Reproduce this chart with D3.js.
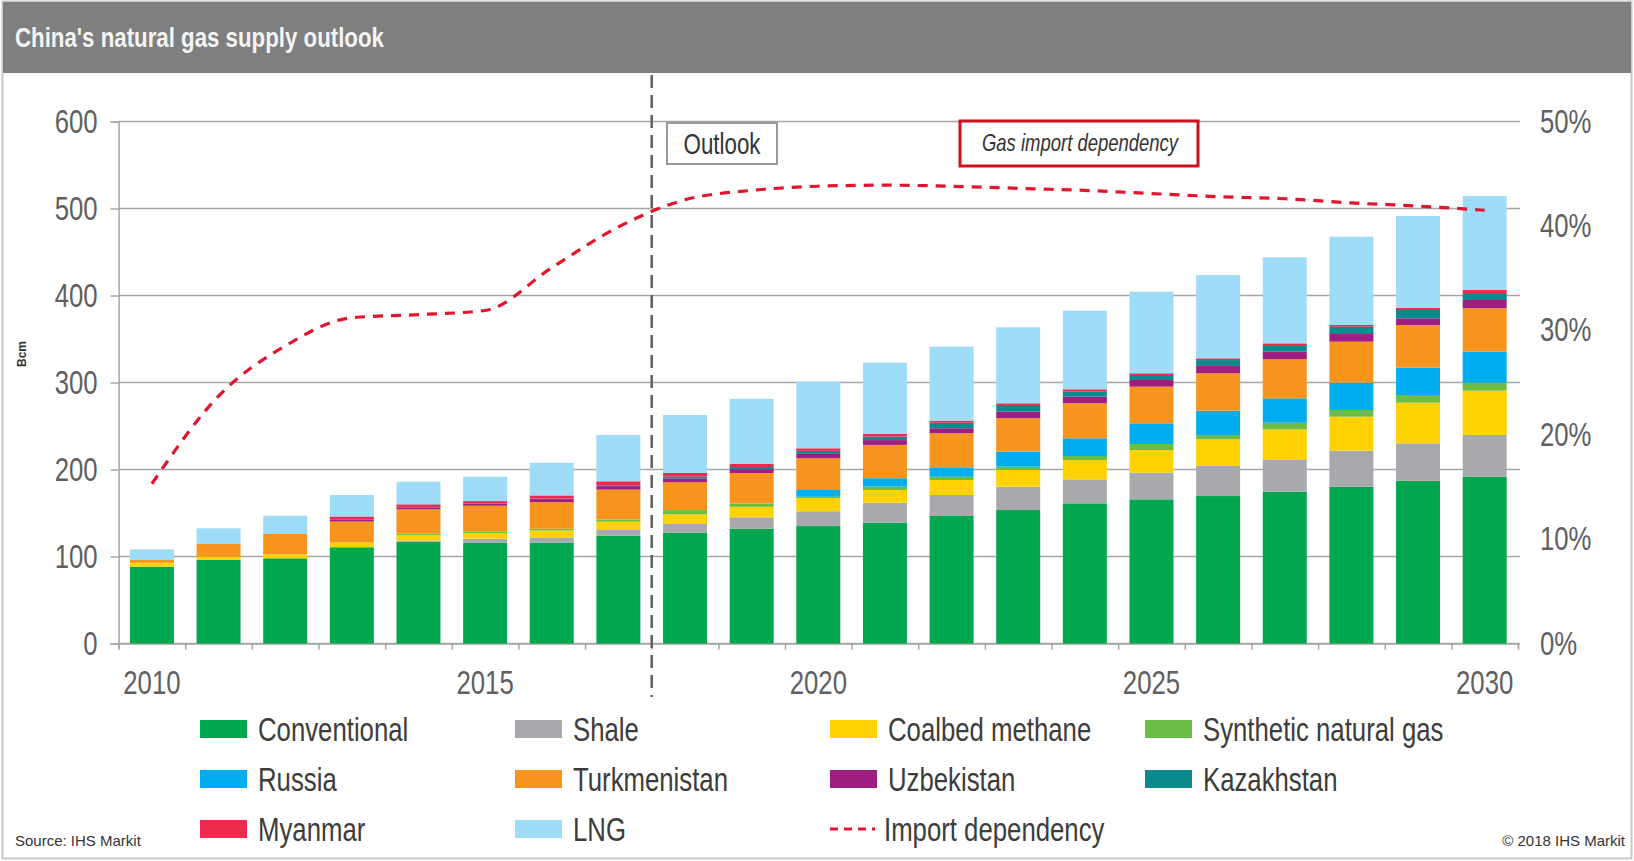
<!DOCTYPE html>
<html><head><meta charset="utf-8">
<script src="https://cdn.jsdelivr.net/npm/d3@7/dist/d3.min.js"></script>
<style>
html,body{margin:0;padding:0;background:#fff;}
svg{display:block;}
</style></head><body>
<svg id="chart" width="1634" height="861"></svg>
<script>
// ---------- DATA ----------
const years = [2010,2011,2012,2013,2014,2015,2016,2017,2018,2019,2020,2021,2022,2023,2024,2025,2026,2027,2028,2029,2030];
const conventional = [88.3,96,97.9,110.6,117,115.9,115.9,124,127.4,132,135,139,146.6,153.4,161.1,165.7,169.5,174.5,180.2,187.1,191.7];
const shale        = [0,0,0,0.2,1.3,4.5,6,6.5,10,13,17,22.9,24.1,26.8,27.6,30.7,34.5,36.4,41.4,43,48];
const coalbed      = [4.6,3.8,4.6,5.3,6.5,6.5,8,9.5,11,12.1,15.2,14.6,17.2,19.2,22.2,26,30.7,35.3,39.1,46.7,50.9];
const synthetic    = [0,0,0,0,1.5,1.5,2,2.5,5,3.8,1.5,3.8,3.8,3.8,4.6,6.9,5,7.6,7.7,8.8,9.2];
const russia       = [0,0,0,0,0,0,0,0,0,0,7.7,9.7,10.8,17.3,20.4,23.8,27.9,28,31.4,31.4,35.6];
const turkmenistan = [3.1,14.6,23.4,24.1,28,29.9,30.6,34.4,31.9,35,36.5,38.3,39.1,38.4,40.2,42.1,43,44.9,47.1,49.1,49.9];
const uzbekistan   = [0,0,0,2.5,2.2,2,3.5,4,4.5,4.5,5,5.5,5.8,7.6,7.6,7.7,8.4,8.7,8.8,7.7,9.5];
const kazakhstan   = [0,0,0,0.3,0.5,0.4,0.5,1,2,2.5,3.5,4,6.4,6.5,5.7,5.7,6.8,6.6,8.4,9.5,6.9];
const myanmar      = [0,0,0,3,3,3,3.7,4.5,4.3,3.7,3,3.1,2.3,3.1,2.8,2,2,3,2,2.7,4.6];
const lng          = [12.3,18,21,24.7,26,28,37.6,53.3,66.5,74.6,76.6,81.9,85,87.3,90.3,93.8,95.8,98.9,101.5,105.4,108.1];
const importDependency = [15.3,23.7,28.5,31.2,31.5,31.9,36,39.9,42.5,43.4,43.8,43.9,43.8,43.6,43.4,43.1,42.8,42.6,42.2,41.9,41.5];

const seriesNames  = ["Conventional","Shale","Coalbed methane","Synthetic natural gas","Russia","Turkmenistan","Uzbekistan","Kazakhstan","Myanmar","LNG"];
const seriesColors = ["#00a74f","#a7a9ac","#ffd200","#6abd45","#00aeef","#f7941d","#9e1f7f","#0a8a8c","#ee2a4e","#9fdcf7"];
const seriesData   = [conventional,shale,coalbed,synthetic,russia,turkmenistan,uzbekistan,kazakhstan,myanmar,lng];

const leftTicks  = [0,100,200,300,400,500,600];
const rightTicks = [0,10,20,30,40,50];
const xLabelYears = [2010,2015,2020,2025,2030];
const titleText = "China's natural gas supply outlook";
const lineName = "Import dependency";

// ---------- LAYOUT ----------
const FONT = "'Liberation Sans Narrow','Arial Narrow','Liberation Sans',Arial,sans-serif";
const svg = d3.select("#chart");
const W = 1634, H = 861;
const L = 118.6, R = 1518, T = 121.5, B = 643.5;

// emulate a condensed face: squeeze glyphs horizontally, keep height
function condense(sel, f){
  sel.each(function(){
    const w = this.getComputedTextLength();
    d3.select(this).attr("textLength", (w*f).toFixed(1)).attr("lengthAdjust","spacingAndGlyphs");
  });
}

// frame + header
svg.append("rect").attr("x",2.5).attr("y",1.5).attr("width",W-5).attr("height",H-4)
  .attr("fill","#fff").attr("stroke","#c8c8c8").attr("stroke-width",2);
svg.append("rect").attr("x",3).attr("y",2).attr("width",W-6).attr("height",71).attr("fill","#7f7f7f");
svg.append("text").attr("x",15).attr("y",47).text(titleText)
  .attr("font-family",FONT).attr("font-weight","bold").attr("font-size",28).attr("fill","#f4f4f4")
  .call(condense,0.795);

const rows = years.map((yr,i) => {
  const o = {year: yr};
  seriesNames.forEach((n,k) => o[n] = seriesData[k][i]);
  return o;
});

const x = d3.scaleBand().domain(years).range([L,R]).paddingInner(0.34).paddingOuter(0.17);
const y = d3.scaleLinear().domain([0,600]).range([B,T]);
const yR = d3.scaleLinear().domain([0,50]).range([B,T]);
const xb = d3.scaleLinear().domain([0,years.length]).range([L,R]);

// gridlines
svg.append("g").selectAll("line").data(leftTicks).join("line")
  .attr("x1",L).attr("x2",R+2).attr("y1",d=>y(d)).attr("y2",d=>y(d))
  .attr("stroke","#a6a6a6").attr("stroke-width",1.5);

const AX = 33, AXF = 0.78;
// left axis
const gL = svg.append("g").attr("transform",`translate(${L},0)`)
  .call(d3.axisLeft(y).tickValues(leftTicks).tickSize(8).tickPadding(13));
gL.select(".domain").attr("stroke","#a6a6a6").attr("stroke-width",1.5);
gL.selectAll(".tick line").attr("stroke","#a6a6a6").attr("stroke-width",1.5);
gL.selectAll("text").attr("font-family",FONT).attr("font-size",AX).attr("fill","#5f5f5f").call(condense,AXF);

// right axis
const gR = svg.append("g").attr("transform",`translate(${R},0)`)
  .call(d3.axisRight(yR).tickValues(rightTicks).tickSize(0).tickPadding(22).tickFormat(d=>d+"%"));
gR.select(".domain").remove();
gR.selectAll("text").attr("font-family",FONT).attr("font-size",AX).attr("fill","#5f5f5f").call(condense,AXF);

// bottom ticks at category boundaries
const gB = svg.append("g").attr("transform",`translate(0,${B})`)
  .call(d3.axisBottom(xb).tickValues(d3.range(years.length+1)).tickSize(6).tickFormat(""));
gB.select(".domain").attr("stroke","#a6a6a6").attr("stroke-width",1.5);
gB.selectAll(".tick line").attr("stroke","#a6a6a6").attr("stroke-width",1.5);

// bottom labels
const gBL = svg.append("g").attr("transform",`translate(0,${B})`)
  .call(d3.axisBottom(x).tickValues(xLabelYears).tickSize(0).tickPadding(27));
gBL.select(".domain").remove();
gBL.selectAll("text").attr("font-family",FONT).attr("font-size",AX).attr("fill","#5f5f5f").call(condense,AXF);

// y title
svg.append("text").attr("transform","translate(26,354) rotate(-90)").attr("text-anchor","middle")
  .attr("font-family",FONT).attr("font-weight","bold").attr("font-size",12).attr("fill","#333").text("Bcm");

// stacked bars
const stack = d3.stack().keys(seriesNames)(rows);
svg.append("g").selectAll("g").data(stack).join("g")
  .attr("fill",(d,i)=>seriesColors[i])
  .selectAll("rect").data(d=>d).join("rect")
  .attr("x",d=>x(d.data.year)).attr("width",x.bandwidth())
  .attr("y",d=>y(d[1])).attr("height",d=>Math.max(0,y(d[0])-y(d[1])));

// outlook divider
const divX = (x(2017)+x.bandwidth()+x(2018))/2;
svg.append("line").attr("x1",divX).attr("x2",divX).attr("y1",75).attr("y2",697)
  .attr("stroke","#606060").attr("stroke-width",2.5).attr("stroke-dasharray","13,7");

// import dependency line
const line = d3.line().x((d,i)=>x(years[i])+x.bandwidth()/2).y(d=>yR(d)).curve(d3.curveMonotoneX);
svg.append("path").datum(importDependency).attr("d",line)
  .attr("fill","none").attr("stroke","#e3142d").attr("stroke-width",3.2).attr("stroke-dasharray","10,8");

// annotation boxes
svg.append("rect").attr("x",667).attr("y",123).attr("width",110).attr("height",41)
  .attr("fill","#fff").attr("stroke","#9a9a9a").attr("stroke-width",2);
svg.append("text").attr("x",722).attr("y",154).attr("text-anchor","middle")
  .attr("font-family",FONT).attr("font-size",29).attr("fill","#333").text("Outlook").call(condense,0.77);
svg.append("rect").attr("x",960).attr("y",121).attr("width",238).attr("height",45)
  .attr("fill","#fff").attr("stroke","#cc1020").attr("stroke-width",3);
svg.append("text").attr("x",1080).attr("y",151).attr("text-anchor","middle")
  .attr("font-family",FONT).attr("font-style","italic").attr("font-size",24).attr("fill","#333")
  .text("Gas import dependency").call(condense,0.77);

// legend
const colX = [200,515,830,1145];
const rowY = [729,779,829];
const legendItems = seriesNames.map((n,i)=>({name:n,color:seriesColors[i],type:"bar"}))
  .concat([{name:lineName,color:"#e3142d",type:"line"}]);
const lg = svg.append("g");
legendItems.forEach((it,i)=>{
  const cx = colX[i%4], cy = rowY[Math.floor(i/4)];
  if(it.type==="bar"){
    lg.append("rect").attr("x",cx).attr("y",cy-9).attr("width",47).attr("height",18).attr("fill",it.color);
    lg.append("text").attr("x",cx+58).attr("y",cy+12).attr("font-family",FONT).attr("font-size",AX)
      .attr("fill","#3c3c3c").text(it.name).call(condense,AXF);
  } else {
    lg.append("line").attr("x1",cx).attr("x2",cx+45).attr("y1",cy).attr("y2",cy)
      .attr("stroke",it.color).attr("stroke-width",3.2).attr("stroke-dasharray","8,6");
    lg.append("text").attr("x",cx+54).attr("y",cy+12).attr("font-family",FONT).attr("font-size",AX)
      .attr("fill","#3c3c3c").text(it.name).call(condense,AXF);
  }
});

// source / copyright
svg.append("text").attr("x",15).attr("y",846).attr("font-family",FONT).attr("font-size",15)
  .attr("fill","#333").text("Source: IHS Markit");
svg.append("text").attr("x",1625).attr("y",846).attr("text-anchor","end").attr("font-family",FONT).attr("font-size",15)
  .attr("fill","#333").text("© 2018 IHS Markit");
</script>
</body></html>
